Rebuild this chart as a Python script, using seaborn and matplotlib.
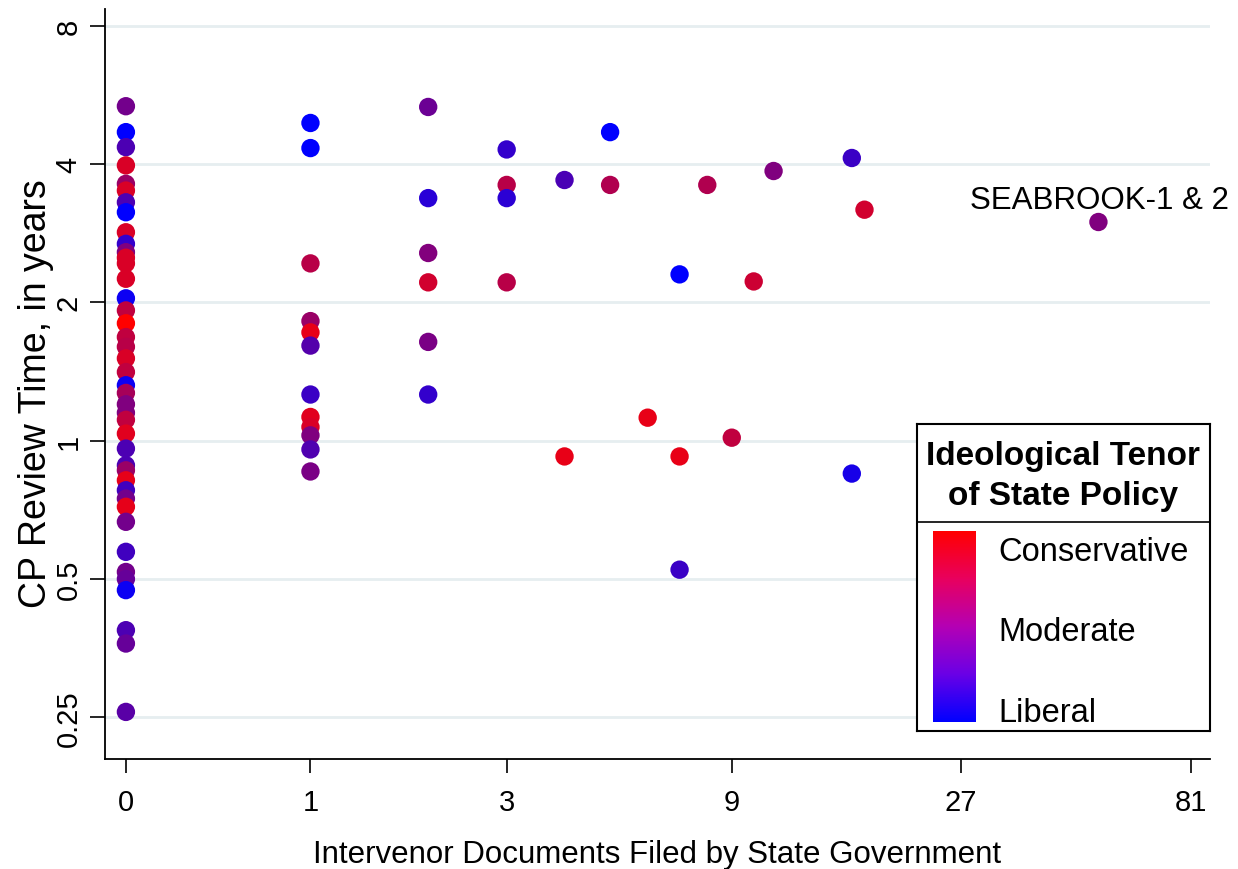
import numpy as np
import pandas as pd
import matplotlib
matplotlib.use('Agg')
import matplotlib.pyplot as plt
import seaborn as sns
from matplotlib.colors import LinearSegmentedColormap, Normalize
from matplotlib.cm import ScalarMappable
from matplotlib.ticker import NullLocator

# --- data: intervenor documents, CP review time (years), ideology (0 = liberal, 1 = conservative)
docs_0 = [0] * 42
review_0 = [5.34, 4.69, 4.35, 3.97, 3.62, 3.50, 3.30, 3.14, 2.84, 2.68, 2.57, 2.50,
            2.43, 2.25, 2.04, 1.92, 1.80, 1.68, 1.60, 1.51, 1.41, 1.32, 1.27, 1.20,
            1.15, 1.11, 1.036, 0.961, 0.884, 0.862, 0.82, 0.78, 0.748, 0.718, 0.666,
            0.573, 0.518, 0.50, 0.473, 0.387, 0.362, 0.257]
tenor_0 = [0.45, 0.0, 0.3, 0.85, 0.6, 0.85, 0.3, 0.0, 0.85, 0.2, 0.5, 0.85,
           0.85, 0.85, 0.05, 0.75, 1.0, 0.75, 0.72, 0.85, 0.75, 0.05, 0.65, 0.5,
           0.5, 0.75, 0.88, 0.3, 0.3, 0.6, 0.9, 0.25, 0.45, 0.9, 0.45,
           0.25, 0.45, 0.4, 0.05, 0.3, 0.4, 0.35]

docs_n = [1, 1, 1, 1, 1, 1, 1, 1, 1, 1, 1, 1,
          2, 2, 2, 2, 2, 2,
          3, 3, 3, 3,
          4, 4, 5, 5, 6, 7, 7, 7, 8, 9, 10, 11, 16, 16, 17, 52]
review_n = [4.91, 4.33, 2.43, 1.82, 1.72, 1.61, 1.26, 1.126, 1.071, 1.027, 0.957, 0.857,
            5.32, 3.37, 2.56, 2.21, 1.64, 1.26,
            4.30, 3.60, 3.37, 2.21,
            3.69, 0.924, 4.69, 3.60, 1.122, 2.30, 0.924, 0.524, 3.60, 1.015, 2.22, 3.86,
            4.12, 0.848, 3.18, 2.99]
tenor_n = [0.0, 0.0, 0.72, 0.6, 0.91, 0.33, 0.23, 0.88, 0.85, 0.5, 0.31, 0.48,
           0.42, 0.16, 0.51, 0.82, 0.48, 0.2,
           0.2, 0.72, 0.17, 0.72,
           0.29, 0.91, 0.0, 0.69, 0.91, 0.0, 0.91, 0.23, 0.69, 0.75, 0.8, 0.5,
           0.23, 0.09, 0.82, 0.5]

x_ticks = [0, 1, 3, 9, 27, 81]
y_ticks = [0.25, 0.5, 1, 2, 4, 8]
y_ticklabels = ['0.25', '0.5', '1', '2', '4', '8']
legend_labels = ['Liberal', 'Moderate', 'Conservative']

df = pd.DataFrame({
    'docs': docs_0 + docs_n,
    'review': review_0 + review_n,
    'tenor': tenor_0 + tenor_n,
})

# points: straight blue->red mix; legend bar: smoother gradient
point_cmap = LinearSegmentedColormap.from_list('pts', ['#0000FF', '#FF0000'])
bar_cmap = LinearSegmentedColormap.from_list(
    'bar', ['#0000FF', '#6A00E6', '#B400B4', '#E8005E', '#FF0000'])

sns.set_theme(style='white')
plt.rcParams['font.family'] = ['Liberation Sans', 'DejaVu Sans']

fig = plt.figure(figsize=(12.38, 8.70), dpi=100)
ax = fig.add_axes([105 / 1238, 1 - 760 / 870, 1105 / 1238, 750 / 870])

sns.scatterplot(data=df, x='docs', y='review', hue='tenor', palette=point_cmap,
                hue_norm=(0, 1), s=175, linewidth=0, alpha=1, legend=False,
                ax=ax, zorder=3)

ax.set_xscale('asinh', linear_width=1)
ax.set_yscale('log', base=2)
ax.set_xlim(-0.1, 88.6)
ax.set_ylim(0.203, 8.69)

ax.set_xticks(x_ticks)
ax.set_xticklabels([str(t) for t in x_ticks])
ax.set_yticks(y_ticks)
ax.set_yticklabels(y_ticklabels, rotation=90, va='center')
ax.xaxis.set_minor_locator(NullLocator())
ax.yaxis.set_minor_locator(NullLocator())

ax.tick_params(axis='x', length=10, width=1.2, color='black', labelsize=21,
               pad=11, bottom=True, labelcolor='black')
ax.tick_params(axis='y', length=11, width=1.2, color='black', labelsize=21,
               pad=5, left=True, labelcolor='black')

ax.grid(True, axis='y', color='#E6EEF0', linewidth=2, zorder=0)
ax.grid(False, axis='x')
for side in ['top', 'right']:
    ax.spines[side].set_visible(False)
for side in ['left', 'bottom']:
    ax.spines[side].set_color('black')
    ax.spines[side].set_linewidth(1.3)

ax.set_xlabel('Intervenor Documents Filed by State Government', fontsize=22.5,
              color='black')
ax.set_ylabel('CP Review Time, in years', fontsize=27, color='black')
ax.xaxis.set_label_coords(0.5, -0.107)
ax.yaxis.set_label_coords(-0.046, 0.489)

ax.annotate('SEABROOK-1 & 2', xy=(52, 2.99), xytext=(94, 16),
            textcoords='offset points', ha='right', va='center',
            fontsize=22.5, color='black', annotation_clip=False)

# legend box with colour bar
lax = fig.add_axes([917 / 1238, 1 - 732 / 870, 293 / 1238, 307 / 870], zorder=5)
lax.set_xticks([])
lax.set_yticks([])
lax.set_facecolor('white')
for sp in lax.spines.values():
    sp.set_visible(True)
    sp.set_color('black')
    sp.set_linewidth(1.5)
div = (732 - 523) / 307
lax.axhline(div, color='black', linewidth=1.2)
lax.text(0.5, (div + 1) / 2 - 0.008, 'Ideological Tenor\nof State Policy',
         ha='center', va='center', fontsize=24, fontweight='bold',
         linespacing=1.4, color='black', transform=lax.transAxes)

cax = fig.add_axes([933 / 1238, 1 - 723 / 870, 43 / 1238, 191 / 870], zorder=6)
cb = fig.colorbar(ScalarMappable(norm=Normalize(0, 1), cmap=bar_cmap), cax=cax)
cb.outline.set_visible(False)
cb.set_ticks([0.07, 0.49, 0.91])
cb.set_ticklabels(legend_labels)
cax.tick_params(length=0, labelsize=23.5, pad=16, labelcolor='black')

fig.savefig('out.png', dpi=100, facecolor='white')
